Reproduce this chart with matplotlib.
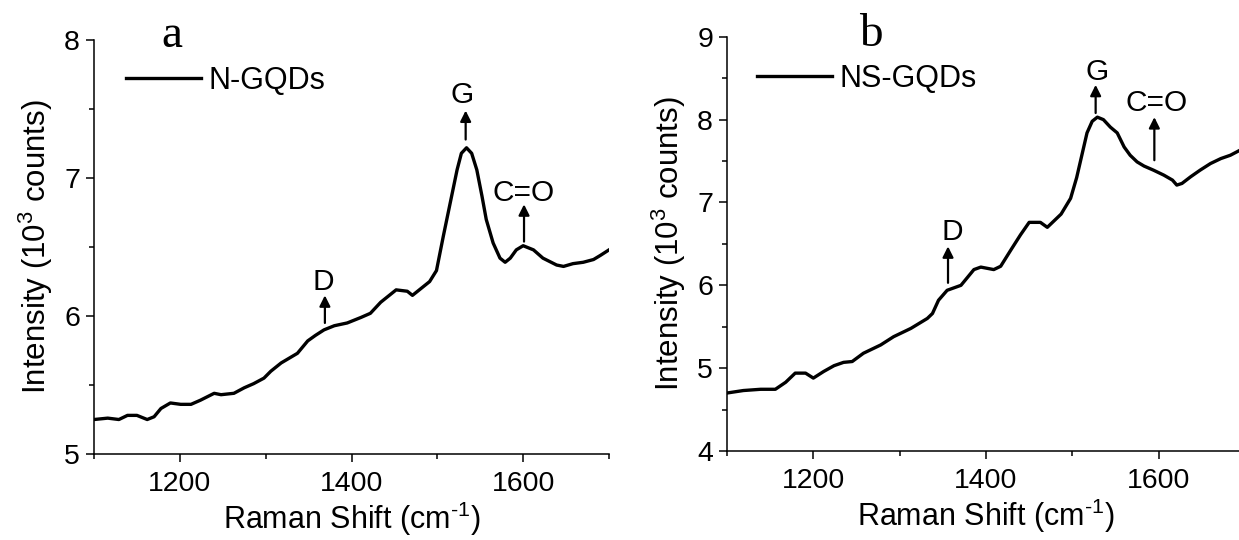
import matplotlib
matplotlib.use("Agg")
import matplotlib.pyplot as plt
from matplotlib.ticker import MultipleLocator

plt.rcParams['font.family'] = ['Liberation Sans', 'DejaVu Sans']
plt.rcParams['mathtext.fontset'] = 'custom'
plt.rcParams['mathtext.rm'] = 'Liberation Sans'

# ---- data ----
shift_a = [1100, 1116, 1129, 1139, 1150, 1162, 1170, 1178, 1189, 1201, 1213, 1224,
           1240, 1248, 1263, 1275, 1286, 1298, 1306, 1318, 1337, 1349, 1358, 1368,
           1380, 1395, 1411, 1422, 1434, 1452, 1465, 1471, 1483, 1491, 1499, 1507,
           1515, 1523, 1528, 1534, 1540, 1546, 1552, 1557, 1565, 1573, 1579, 1585,
           1592, 1600, 1612, 1623, 1639, 1647, 1658, 1670, 1682, 1690, 1700]
int_a = [5.25, 5.26, 5.25, 5.28, 5.28, 5.25, 5.27, 5.33, 5.37, 5.36, 5.36, 5.39,
         5.44, 5.43, 5.44, 5.48, 5.51, 5.55, 5.60, 5.66, 5.73, 5.82, 5.86, 5.90,
         5.93, 5.95, 5.99, 6.02, 6.10, 6.19, 6.18, 6.15, 6.21, 6.25, 6.33, 6.58,
         6.82, 7.06, 7.18, 7.22, 7.18, 7.06, 6.87, 6.70, 6.53, 6.42, 6.39, 6.42,
         6.48, 6.51, 6.48, 6.42, 6.37, 6.36, 6.38, 6.39, 6.41, 6.44, 6.48]

shift_b = [1100, 1119, 1139, 1156, 1168, 1179, 1191, 1200, 1212, 1224, 1235, 1245,
           1258, 1278, 1293, 1313, 1332, 1338, 1345, 1355, 1371, 1386, 1394, 1409,
           1417, 1429, 1440, 1450, 1463, 1471, 1487, 1498, 1505, 1511, 1517, 1523,
           1529, 1536, 1544, 1552, 1560, 1567, 1575, 1583, 1594, 1606, 1616, 1621,
           1627, 1637, 1648, 1660, 1672, 1683, 1694, 1700]
int_b = [4.70, 4.73, 4.745, 4.745, 4.83, 4.94, 4.94, 4.88, 4.96, 5.03, 5.07, 5.08,
         5.18, 5.28, 5.38, 5.48, 5.60, 5.66, 5.82, 5.94, 6.00, 6.19, 6.22, 6.19,
         6.23, 6.43, 6.61, 6.76, 6.76, 6.70, 6.86, 7.05, 7.30, 7.57, 7.84, 7.98,
         8.03, 8.00, 7.91, 7.84, 7.67, 7.57, 7.49, 7.44, 7.39, 7.33, 7.27, 7.21,
         7.23, 7.31, 7.39, 7.47, 7.53, 7.57, 7.63, 7.66]

label_a = "N-GQDs"
label_b = "NS-GQDs"
xticks = [1200, 1400, 1600]
yticks_a = [5, 6, 7, 8]
yticks_b = [4, 5, 6, 7, 8, 9]

# peak annotations: (text, text_x, text_y, arrow_x, arrow_y0, arrow_y1)
peaks_a = [("D", 1367, 6.25, 1369, 5.95, 6.15),
           ("G", 1529, 7.60, 1533, 7.28, 7.49),
           ("C=O", 1601, 6.89, 1601, 6.54, 6.81)]
peaks_b = [("D", 1361, 6.64, 1356, 6.03, 6.47),
           ("G", 1529, 8.58, 1527, 8.08, 8.42),
           ("C=O", 1598, 8.20, 1595, 7.51, 8.03)]

W, H = 1239, 540
fig = plt.figure(figsize=(W / 100, H / 100), dpi=100)

def px_axes(l, r, t, b):
    return fig.add_axes([l / W, 1 - b / H, (r - l) / W, (b - t) / H])

ax_a = px_axes(94, 609, 40.2, 454)
ax_b = px_axes(727, 1245, 36.8, 451)

panels = [
    (ax_a, shift_a, int_a, label_a, yticks_a, (5, 8), peaks_a, "a", (0.151, 0.983), (0.062, 0.901)),
    (ax_b, shift_b, int_b, label_b, yticks_b, (4, 9), peaks_b, "b", (0.278, 0.977), (0.058, 0.898)),
]

for ax, xs, ys, lab, yt, ylim, peaks, letter, lpos, legpos in panels:
    ax.plot(xs, ys, color='black', lw=2.4, label=lab, solid_joinstyle='round')
    ax.set_xlim(1100, 1700)
    ax.set_ylim(*ylim)
    ax.set_xticks(xticks)
    ax.set_yticks(yt)
    ax.xaxis.set_minor_locator(MultipleLocator(100))
    ax.yaxis.set_minor_locator(MultipleLocator(0.5))
    ax.spines['top'].set_visible(False)
    ax.spines['right'].set_visible(False)
    for s in ('left', 'bottom'):
        ax.spines[s].set_linewidth(1.1)
    ax.tick_params(which='major', direction='out', length=6, width=1.1,
                   labelsize=20.5, pad=4)
    ax.tick_params(axis='x', which='major', pad=6)
    ax.tick_params(which='minor', direction='out', length=3.5, width=1.1)
    ax.set_xlabel(r"Raman Shift (cm$^{\text{-1}}$)", fontsize=22, labelpad=2)
    ax.set_ylabel(r"Intensity (10$^{3}$ counts)", fontsize=22.5, labelpad=7)
    for txt, tx, ty, axx, y0, y1 in peaks:
        ax.text(tx, ty, txt, fontsize=21.5, ha='center', va='center')
        ax.annotate("", xy=(axx, y1), xytext=(axx, y0),
                    arrowprops=dict(arrowstyle='-|>', lw=1.6, color='black',
                                    mutation_scale=16, shrinkA=0, shrinkB=0))
    ax.text(lpos[0], lpos[1], letter, transform=ax.transAxes, fontsize=34,
            family=['Liberation Serif', 'DejaVu Serif'], ha='center', va='baseline')
    ax.legend(loc='center left', bbox_to_anchor=legpos, frameon=False,
              fontsize=22, handlelength=2.45, handletextpad=0.25,
              borderpad=0, borderaxespad=0)

fig.savefig("out.png", dpi=100)
